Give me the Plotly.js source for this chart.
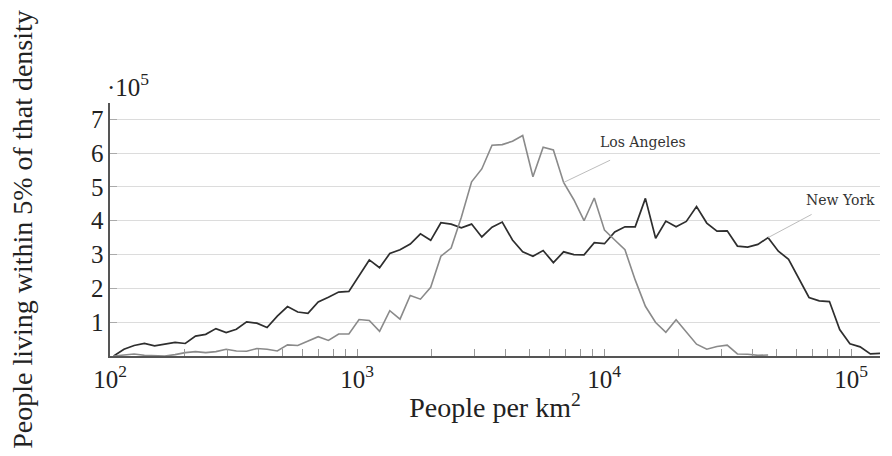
<!DOCTYPE html>
<html>
<head>
<meta charset="utf-8">
<script src="https://cdn.plot.ly/plotly-3.0.1.min.js"></script>
<style>html,body{margin:0;padding:0;background:#fff}#chart{width:892px;height:456px}</style>
</head>
<body>
<div id="chart"></div>
<script>
// Population density bins (people per km², geometric bins)
const density = [103.5, 113.9, 125.2, 137.8, 151.5, 166.7, 183.4, 201.7, 221.9, 244.0,
  268.4, 295.3, 324.8, 357.3, 393.0, 432.3, 475.6, 523.1, 575.4, 633.0,
  696.3, 765.9, 842.5, 926.8, 1019, 1121, 1234, 1357, 1493, 1642,
  1806, 1987, 2185, 2404, 2644, 2909, 3199, 3519, 3871, 4258,
  4684, 5153, 5668, 6235, 6858, 7544, 8299, 9128, 10041, 11046,
  12150, 13365, 14701, 16171, 17788, 19567, 21524, 23677, 26044, 28649,
  31514, 34664, 38131, 41944, 46139, 50753, 55828, 61411, 67552, 74308,
  81738, 89912, 98904, 108794, 119673, 131641];

// People living within 5% of that density (units of 10^5)
const newYork = [0, 0.20, 0.31, 0.37, 0.30, 0.35, 0.40, 0.37, 0.59, 0.64,
  0.81, 0.69, 0.79, 1.01, 0.97, 0.84, 1.18, 1.46, 1.30, 1.26,
  1.60, 1.74, 1.89, 1.91, 2.37, 2.84, 2.61, 3.03, 3.14, 3.31,
  3.61, 3.42, 3.94, 3.90, 3.79, 3.90, 3.52, 3.81, 3.96, 3.43,
  3.08, 2.95, 3.12, 2.76, 3.08, 3.00, 2.99, 3.35, 3.32, 3.67,
  3.82, 3.82, 4.66, 3.48, 3.99, 3.82, 3.98, 4.42, 3.93, 3.69,
  3.70, 3.25, 3.22, 3.30, 3.50, 3.10, 2.86, 2.28, 1.73, 1.63,
  1.61, 0.78, 0.36, 0.27, 0.06, 0.08];

const losAngeles = [0, 0.03, 0.06, 0.02, 0, 0, 0.04, 0.10, 0.13, 0.10,
  0.13, 0.20, 0.15, 0.14, 0.22, 0.20, 0.15, 0.33, 0.31, 0.45,
  0.57, 0.46, 0.65, 0.65, 1.08, 1.05, 0.73, 1.34, 1.09, 1.79,
  1.68, 2.03, 2.95, 3.19, 4.10, 5.15, 5.53, 6.23, 6.25, 6.35,
  6.52, 5.30, 6.17, 6.09, 5.13, 4.62, 4.00, 4.67, 3.72, 3.43,
  3.14, 2.25, 1.47, 0.99, 0.70, 1.07, 0.71, 0.35, 0.20, 0.28,
  0.32, 0.06, 0.05, 0.02, 0.03];

const seriesNames = ['New York', 'Los Angeles'];
const xTickVals = [100, 1000, 10000, 100000];
const xTickText = ['10<sup>2</sup>', '10<sup>3</sup>', '10<sup>4</sup>', '10<sup>5</sup>'];
const xMinorVals = [200, 300, 400, 500, 600, 700, 800, 900,
  2000, 3000, 4000, 5000, 6000, 7000, 8000, 9000,
  20000, 30000, 40000, 50000, 60000, 70000, 80000, 90000];
const yTickVals = [1, 2, 3, 4, 5, 6, 7];
const yTickText = ['1', '2', '3', '4', '5', '6', '7'];

const FONT = 'Liberation Serif, Times New Roman, serif';
const LABELFONT = 'DejaVu Serif, serif';
const laIdx = 44, nyIdx = 64;

const traces = [
  {x: density.slice(0, newYork.length), y: newYork, name: seriesNames[0], mode: 'lines',
   line: {color: '#2e2e2e', width: 1.7}},
  {x: density.slice(0, losAngeles.length), y: losAngeles, name: seriesNames[1], mode: 'lines',
   line: {color: '#8a8a8a', width: 1.6}}
];

const layout = {
  width: 892, height: 456,
  margin: {l: 110, r: 12, t: 103, b: 100},
  paper_bgcolor: '#fff', plot_bgcolor: '#fff',
  showlegend: false,
  font: {family: FONT, color: '#222', size: 25},
  xaxis: {
    type: 'log', range: [2, 5.117],
    tickvals: xTickVals, ticktext: xTickText,
    ticks: 'inside', ticklen: 7, tickcolor: '#999', tickwidth: 1,
    minor: {tickvals: xMinorVals, ticks: 'inside', ticklen: 7, tickcolor: '#999', tickwidth: 1, showgrid: false},
    showline: true, linecolor: '#555', linewidth: 1.6,
    showgrid: false, zeroline: false,
    tickfont: {family: FONT, size: 25, color: '#222'},
    title: {text: 'People per km<sup>2</sup>', font: {family: FONT, size: 28, color: '#222'}, standoff: 6}
  },
  yaxis: {
    range: [0, 7.48],
    tickvals: yTickVals, ticktext: yTickText,
    ticks: 'inside', ticklen: 7, tickcolor: '#aaa', tickwidth: 1,
    showline: true, linecolor: '#555', linewidth: 1.6,
    showgrid: true, gridcolor: '#dcdcdc', gridwidth: 1,
    zeroline: false,
    tickfont: {family: FONT, size: 25, color: '#222'},
    title: {text: 'People living within 5% of that density', font: {family: FONT, size: 28, color: '#222'}, standoff: 50}
  },
  annotations: [
    {xref: 'paper', yref: 'paper', x: 0, y: 1, xanchor: 'left', yanchor: 'bottom', xshift: -5, yshift: 0,
     text: '·10<sup>5</sup>', showarrow: false, font: {family: FONT, size: 25, color: '#222'}},
    {x: Math.log10(density[laIdx]), y: losAngeles[laIdx], text: '', showarrow: true, arrowhead: 0,
     arrowwidth: 1, arrowcolor: '#bdbdbd', ax: 48, ay: -23, standoff: 0},
    {x: Math.log10(density[laIdx]), y: losAngeles[laIdx], text: seriesNames[1], showarrow: false,
     xshift: 79, yshift: 40, font: {family: LABELFONT, size: 14, color: '#333'}},
    {x: Math.log10(density[nyIdx]), y: newYork[nyIdx], text: '', showarrow: true, arrowhead: 0,
     arrowwidth: 1, arrowcolor: '#bdbdbd', ax: 45, ay: -24, standoff: 0},
    {x: Math.log10(density[nyIdx]), y: newYork[nyIdx], text: seriesNames[0], showarrow: false,
     xshift: 72, yshift: 38, font: {family: LABELFONT, size: 14, color: '#333'}}
  ]
};

Plotly.newPlot('chart', traces, layout, {staticPlot: true, displayModeBar: false});
</script>
</body>
</html>
